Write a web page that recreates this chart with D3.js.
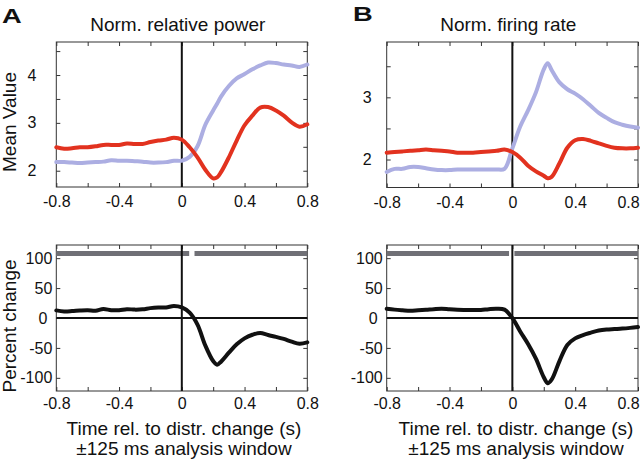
<!DOCTYPE html>
<html>
<head>
<meta charset="utf-8">
<script src="https://cdn.jsdelivr.net/npm/d3@7"></script>
<style>
  body { margin: 0; background: #fff; }
  svg text { font-family: "Liberation Sans", Arial, Helvetica, sans-serif; fill: #111; }
</style>
</head>
<body>
<div id="chart"></div>
<script>
// time points (s), shared by every trace
var time = [-0.8, -0.75, -0.7, -0.65, -0.6, -0.55, -0.5, -0.45, -0.4, -0.35, -0.3, -0.25, -0.2, -0.15, -0.1, -0.05,
    0, 0.05, 0.1, 0.15, 0.2, 0.225, 0.25, 0.3, 0.35, 0.4, 0.45, 0.5, 0.55, 0.6, 0.65, 0.7, 0.75, 0.8];

// A: norm. relative power
var powerRed = [2.49, 2.46, 2.47, 2.49, 2.49, 2.51, 2.54, 2.54, 2.54, 2.57, 2.56, 2.56, 2.60, 2.63, 2.65, 2.69,
    2.65, 2.49, 2.28, 2.02, 1.84, 1.86, 1.97, 2.28, 2.63, 2.95, 3.15, 3.32, 3.33, 3.26, 3.15, 3.01, 2.92, 2.97];
var powerBlue = [2.18, 2.18, 2.17, 2.16, 2.17, 2.18, 2.19, 2.22, 2.21, 2.21, 2.20, 2.19, 2.17, 2.17, 2.18, 2.21,
    2.21, 2.29, 2.51, 2.96, 3.26, 3.40, 3.55, 3.77, 3.93, 4.02, 4.12, 4.20, 4.26, 4.25, 4.22, 4.20, 4.17, 4.22];
var powerPct = [12.7, 11, 11.5, 12.5, 13, 12, 15, 13, 13, 14.8, 14, 14.5, 16.5, 17.5, 17.7, 20,
    17.7, 9, -11, -46, -72, -78, -73, -58, -44, -34, -28, -25, -28.5, -31.5, -35, -39.5, -43, -40.7];

// B: norm. firing rate
var rateRed = [2.11, 2.12, 2.13, 2.14, 2.15, 2.16, 2.15, 2.14, 2.13, 2.11, 2.11, 2.11, 2.12, 2.13, 2.14, 2.16,
    2.12, 2.03, 1.90, 1.81, 1.74, 1.70, 1.72, 1.94, 2.19, 2.31, 2.33, 2.30, 2.26, 2.22, 2.19, 2.18, 2.18, 2.19];
var rateBlue = [1.80, 1.85, 1.85, 1.88, 1.88, 1.86, 1.84, 1.83, 1.83, 1.84, 1.84, 1.84, 1.84, 1.84, 1.84, 1.85,
    2.18, 2.53, 2.79, 3.08, 3.45, 3.55, 3.44, 3.24, 3.13, 3.06, 2.97, 2.86, 2.75, 2.67, 2.60, 2.56, 2.53, 2.51];
var ratePct = [15.5, 14, 13, 12.2, 13, 13.8, 14.8, 15.5, 14.5, 13.8, 13.5, 13.3, 13.5, 14.8, 15.5, 14,
    0, -22.5, -43.5, -68, -99, -109, -103, -72, -45, -34, -28.5, -24.5, -21, -19.3, -18.5, -17.7, -16.5, -15];

// significance bars (start, end in s)
var sigA = [[-0.8, 0.047], [0.081, 0.8]];
var sigB = [[-0.8, -0.021], [0.013, 0.8]];
var sigLevel = 108;

// ticks
var xTicks = [-0.8, -0.6, -0.4, -0.2, 0, 0.2, 0.4, 0.6, 0.8];
var xLabels = [-0.8, -0.4, 0, 0.4, 0.8];
var powerTicks = [2, 2.5, 3, 3.5, 4, 4.5];
var rateTicks = [2, 2.5, 3, 3.5];
var rateLabels = [2, 3];
var pctTicks = [-100, -50, 0, 50, 100];

var svgWidth = 640;
var svgHeight = 463;
var svg = d3.select("#chart")
    .append("svg")
    .attr("width", svgWidth)
    .attr("height", svgHeight);

var red = "#e2321f";
var lavender = "#acaee2";

function fmt(d) {
    if (d === 0) return "0";
    return (d < 0 ? "-" : "") + Math.abs(d).toFixed(1);
}

function drawPanel(p) {
    var x = d3.scaleLinear().domain([-0.8, 0.8]).range([p.left, p.right]);
    var y = d3.scaleLinear().domain(p.yDomain).range([p.bottom, p.top]);
    var g = svg.append("g");

    // ticks on all four sides, pointing inward
    var labelSet = p.yLabels || p.yTicks;
    var xl = g.append("g")
        .attr("transform", `translate(0, ${p.bottom})`)
        .call(d3.axisBottom(x).tickValues(xTicks).tickSizeInner(-4).tickSizeOuter(0).tickPadding(p.xPad)
            .tickFormat(d => xLabels.indexOf(d) >= 0 ? fmt(d) : ""));
    g.append("g")
        .attr("transform", `translate(0, ${p.top})`)
        .call(d3.axisTop(x).tickValues(xTicks).tickSizeInner(-4).tickSizeOuter(0).tickFormat(""));
    var yl = g.append("g")
        .attr("transform", `translate(${p.left}, 0)`)
        .call(d3.axisLeft(y).tickValues(p.yTicks).tickSizeInner(-4).tickSizeOuter(0).tickPadding(p.yPad)
            .tickFormat(d => labelSet.indexOf(d) >= 0 ? String(d) : ""));
    g.append("g")
        .attr("transform", `translate(${p.right}, 0)`)
        .call(d3.axisRight(y).tickValues(p.yTicks).tickSizeInner(-4).tickSizeOuter(0).tickFormat(""));
    g.selectAll(".domain").remove();
    g.selectAll(".tick line").attr("stroke", "#333");
    g.selectAll(".tick text").style("font-size", "16px").attr("fill", "#111");
    // the zero label sits a bit further left in the original
    yl.selectAll(".tick text").filter(d => d === 0).attr("dx", -5);
    // last x label pulled in so it stays on the page
    if (p.lastShift) {
        xl.selectAll(".tick text").filter(d => d === 0.8).attr("dx", p.lastShift);
    }

    // frame
    g.append("rect")
        .attr("x", p.left).attr("y", p.top)
        .attr("width", p.right - p.left).attr("height", p.bottom - p.top)
        .attr("fill", "none").attr("stroke", "#333").attr("stroke-width", 1);

    // significance bars
    if (p.sig) {
        g.selectAll(".sig")
            .data(p.sig)
            .enter()
            .append("line")
            .attr("x1", d => x(d[0])).attr("x2", d => x(d[1]))
            .attr("y1", y(sigLevel)).attr("y2", y(sigLevel))
            .attr("stroke", "#707076").attr("stroke-width", 5);
    }

    // zero lines
    g.append("line")
        .attr("x1", x(0)).attr("x2", x(0)).attr("y1", p.top).attr("y2", p.bottom)
        .attr("stroke", "#111").attr("stroke-width", 2);
    if (p.hZero) {
        g.append("line")
            .attr("x1", p.left).attr("x2", p.right).attr("y1", y(0)).attr("y2", y(0))
            .attr("stroke", "#111").attr("stroke-width", 1.8);
    }

    // traces
    var line = d3.line()
        .x((d, i) => x(time[i]))
        .y(d => y(d))
        .curve(d3.curveCatmullRom.alpha(0.5));
    p.series.forEach(function(s) {
        g.append("path")
            .datum(s.values)
            .attr("d", line)
            .attr("fill", "none")
            .attr("stroke", s.color)
            .attr("stroke-width", 4)
            .attr("stroke-linejoin", "round")
            .attr("stroke-linecap", "round");
    });

    if (p.title) {
        g.append("text")
            .attr("x", (p.left + p.right) / 2 - 4)
            .attr("y", 31)
            .attr("text-anchor", "middle")
            .style("font-size", "19px")
            .text(p.title);
    }
    return g;
}

// panel A
drawPanel({left: 56.3, right: 307.3, top: 42, bottom: 187, yDomain: [1.66, 4.69],
    yTicks: powerTicks, yLabels: [2, 3, 4], xPad: 9, yPad: 20, title: "Norm. relative power",
    series: [{values: powerBlue, color: lavender}, {values: powerRed, color: red}]});
drawPanel({left: 56.3, right: 307.3, top: 245, bottom: 391, yDomain: [-122, 122],
    yTicks: pctTicks, xPad: 7, yPad: 4, hZero: true, sig: sigA,
    series: [{values: powerPct, color: "#111"}]});

// panel B
drawPanel({left: 386.7, right: 638, top: 42, bottom: 187.5, yDomain: [1.55, 3.89],
    yTicks: rateTicks, yLabels: rateLabels, xPad: 9, yPad: 15, title: "Norm. firing rate", lastShift: -10,
    series: [{values: rateBlue, color: lavender}, {values: rateRed, color: red}]});
drawPanel({left: 386.7, right: 638, top: 245, bottom: 391, yDomain: [-122, 122],
    yTicks: pctTicks, xPad: 7, yPad: 4, hZero: true, sig: sigB, lastShift: -10,
    series: [{values: ratePct, color: "#111"}]});

// y axis titles
svg.append("text")
    .attr("transform", "translate(16, 122) rotate(-90)")
    .attr("text-anchor", "middle")
    .style("font-size", "19px")
    .text("Mean Value");
svg.append("text")
    .attr("transform", "translate(16, 326) rotate(-90)")
    .attr("text-anchor", "middle")
    .style("font-size", "19px")
    .text("Percent change");

// x axis titles under both bottom plots
[184, 516].forEach(function(cx) {
    svg.append("text")
        .attr("x", cx).attr("y", 435)
        .attr("text-anchor", "middle")
        .style("font-size", "19px")
        .text("Time rel. to distr. change (s)");
    svg.append("text")
        .attr("x", cx).attr("y", 455)
        .attr("text-anchor", "middle")
        .style("font-size", "19px")
        .text("\u00b1125 ms analysis window");
});

// panel letters
svg.append("text")
    .attr("transform", "translate(2, 22.5) scale(1.3, 1)")
    .style("font-size", "21px")
    .style("font-weight", "bold")
    .text("A");
svg.append("text")
    .attr("transform", "translate(353, 20.5) scale(1.3, 1)")
    .style("font-size", "21px")
    .style("font-weight", "bold")
    .text("B");
</script>
</body>
</html>
